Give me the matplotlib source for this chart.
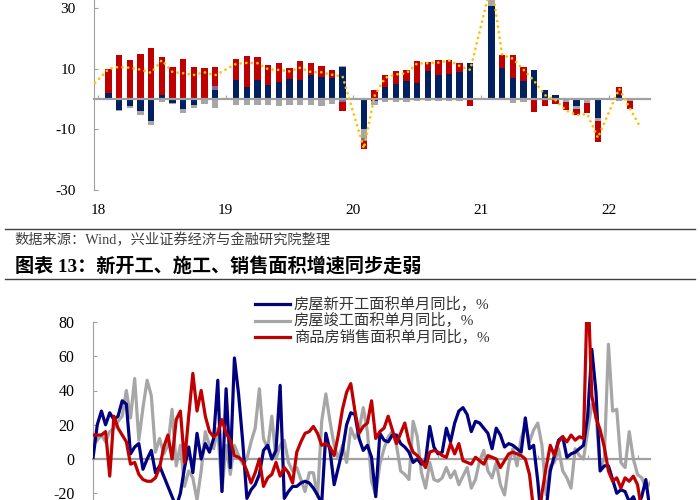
import numpy as np
import matplotlib
matplotlib.use("Agg")
import matplotlib.pyplot as plt
from matplotlib.lines import Line2D

plt.rcParams["font.family"] = ["Liberation Serif", "Noto Sans CJK SC"]
plt.rcParams["axes.unicode_minus"] = False

# -----------------------------
# Top chart: investment yoy split (stacked bars) + total (dotted line)
# month index: 0 = 2018-01
# -----------------------------
bar_months = [1, 2, 3, 4, 5, 6, 7, 8, 9, 10, 11,
              13, 14, 15, 16, 17, 18, 19, 20, 21, 22, 23,
              25, 26, 27, 28, 29, 30, 31, 32, 33, 34, 35,
              37, 38, 39, 40, 41, 42, 43, 44, 45, 46, 47,
              49, 50]
part_navy = [2.0, -3.5, -2.4, -3.9, -7.2, 1.4, -1.3, -3.3, -2.0, 0.3, 3.1,
             6.1, 4.1, 6.1, 4.7, 5.6, 6.7, 6.1, 8.0, 7.3, 7.0, 10.5,
             -9.8, -0.5, 4.1, 5.0, 5.8, 5.4, 9.3, 8.0, 8.2, 8.9, 11.8,
             30.6, 10.2, 6.9, 5.8, 9.7, 3.1, 1.3, 0.0, -2.4, 0.0, -6.4,
             1.3, -0.3]
part_gray = [0.0, -0.5, -0.6, -1.3, -1.3, -0.9, -0.4, -1.3, -1.1, -1.5, -2.9,
             -2.0, -2.0, -2.0, -2.0, -2.2, -2.0, -2.0, -2.0, -2.2, -1.5, 0.4,
             -3.1, -1.5, -0.9, -0.9, -0.9, -0.5, -0.5, -0.5, -0.5, -0.5, 0.0,
             1.9, -0.4, -1.3, -1.0, -0.3, -0.3, -0.3, -0.9, -0.9, -1.3, -0.8,
             -0.5, -0.3]
part_purple = [0, 0, 0, 0, 0, 0, 0, 0, 0, 0, 1.3,
               0, 0, 0, 0, 0, 0, 0, 0, 0, 0, -0.9,
               -0.8, 0, 0, 0, 0, 0, 0, 0, 0, 0, 0,
               0, 0, 0, 0, 0, 0, 0, 0, 0, 0, 0,
               0, 0]
part_red = [8.0, 14.4, 13.0, 14.8, 16.9, 12.4, 10.6, 13.1, 10.6, 10.0, 6.1,
            7.0, 10.1, 7.6, 6.4, 6.4, 3.5, 6.5, 3.9, 3.5, 2.7, -3.0,
            -2.7, 3.1, 3.7, 4.1, 3.8, 7.0, 2.8, 4.7, 4.8, 2.9, -2.3,
            5.8, 4.4, 7.6, 4.8, -4.1, -2.0, -1.3, -2.7, -2.0, -3.3, -7.0,
            2.8, -2.8]

total_months = [-1, 1, 2, 3, 4, 5, 6, 7, 8, 9, 10, 11,
                13, 14, 15, 16, 17, 18, 19, 20, 21, 22, 23,
                25, 26, 27, 28, 29, 30, 31, 32, 33, 34, 35,
                37, 38, 39, 40, 41, 42, 43, 44, 45, 46, 47,
                49, 50, 51]
total_yoy = [2.7, 9.9, 10.6, 10.3, 9.7, 8.6, 12.8, 8.9, 8.5, 7.9, 8.8, 7.8,
             11.6, 11.9, 11.8, 9.8, 9.6, 9.1, 10.3, 8.9, 8.8, 8.0, 7.4,
             -16.3, 1.0, 7.0, 8.1, 8.5, 11.7, 11.8, 12.0, 12.7, 10.9, 9.6,
             38.3, 14.5, 13.3, 9.7, 6.0, 1.3, -0.3, -3.8, -5.3, -5.0, -12.8,
             3.4, -3.1, -9.4]
top_ticks = [0, 12, 24, 36, 48]
top_labels = ["18", "19", "20", "21", "22"]

# -----------------------------
# Bottom chart: monthly yoy, index 0 = 2011-02
# -----------------------------
new_start = [1, 20, 28, 20, 27, 23, 25, 34, 32, 3,
             7, 9, -6, 0, 5, -8, -4, -10, -16, -22,
             -28, -20, -5, 7, -8, 15, 0, 9, 4, 12,
             46, -19, 41, -5, 59, 38, 10, -23, -18, -15,
             -9, 5, 8, 0, 5, 43, -23, -19, -16, -16,
             -14, -13, -14, -17, -21, -26, 15, 5, -15, -5,
             5, 20, 27, 26, 12, 5, 8, 1, -22, 15,
             11, 10, 14, 14, 9, 7, 4, -2, 0, -3,
             -1, 19, 7, 3, 4, 18, 10, 21, 28, 30,
             26, 16, 22, 21, 18, 15, 6, 18, 14, 7,
             9, 8, 6, 4, 24, 6, 8, -13, -40, -30,
             -7, 2, 11, 13, 1, 3, 4, 6, 8, 25,
             64, 39, -7, -4, -4, -12, -20, -18, -19, -25,
             -22, -28, -22, -12, -30]
completed = [8, 11, 14, 10, 16, 18, 22, 25, 40, 24,
             47, 11, 30, 46, 37, 4, 12, 3, 8, 29,
             -4, 8, -16, -7, -11, -24, -7, 16, 8, 6,
             18, -19, 8, -9, 8, 2, -3, 0, 10, 18,
             41, 12, 6, 25, 0, 8, 11, -2, -7, -5,
             -12, -19, -8, -8, -22, 22, 38, 22, 8, 0,
             8, -2, 18, 12, 17, 30, 16, -13, -21, -3,
             6, 13, 16, 8, -7, -9, -12, 22, 13, -8,
             -17, -2, -12, -13, -11, -5, -11, -7, -15, -10,
             -5, -17, -12, -1, 5, -7, -11, -2, -15, -21,
             -3, 6, -4, 12, 20, 10, 17, 21, 8, -21,
             -4, -2, 6, -7, -11, -17, 6, 2, 0, 16,
             32, 26, -5, 0, 67, 28, 29, -2, -5, 16,
             0, -9, -11, -17, -14]
sales = [14, 14, 14, 16, -10, 25, 18, 14, 10, -3,
         -2, -9, -12, -13, -13, -11, -5, 7, 14, 0,
         23, 28, -2, 25, 50, 28, 40, 25, 16, 13,
         15, 23, 15, 11, 2, 1, -1, -7, -14, -8,
         0, -16, -11, -9, -2, -10, -5, -8, -14, 4,
         10, 15, 16, 19, 15, 8, 9, 7, 2, 14,
         29, 39, 44, 28, 15, 19, 21, 34, 12, 16,
         18, 25, 17, 9, 15, 21, 10, 4, 2, -1,
         -5, 4, 5, 4, 2, 1, 9, 3, 9, -1,
         -2, -3, 1, -1, -3, 2, 1, 0, -5, -1,
         3, 4, 3, 2, 0, -9, -30, -40, -20, -5,
         8, 2, 10, 13, 10, 14, 11, 13, 12, 105,
         37, 24, 17, 7, -7, -13, -11, -17, -11, -13,
         -10, -15, -30, -40, -45]
bottom_ticks = [11, 23, 35, 47, 59, 71, 83, 95, 107, 119, 131]

NAVY = "#002060"
RED = "#C00000"
GRAY = "#A6A6A6"
PURPLE = "#7E6A9E"
YELLOW = "#FFC000"
AXIS = "#A0A0A0"

fig = plt.figure(figsize=(7, 5), dpi=100)

# -----------------------------
# Top chart
# -----------------------------
ax1 = fig.add_axes([93.5 / 700, 1 - 190 / 500, (650 - 93.5) / 700, (190 + 52.7) / 500])
pos = np.zeros(len(bar_months))
neg = np.zeros(len(bar_months))
for vals, col in [(part_navy, NAVY), (part_gray, GRAY), (part_purple, PURPLE), (part_red, RED)]:
    v = np.array(vals, dtype=float)
    base = np.where(v >= 0, pos, neg)
    ax1.bar(bar_months, v, width=0.6, bottom=base, color=col, edgecolor="none", zorder=2)
    pos += np.clip(v, 0, None)
    neg += np.clip(v, None, 0)

ax1.plot(total_months, total_yoy, color=YELLOW, lw=2.0, ls=(0, (0.01, 2.0)),
         dash_capstyle="round", zorder=4)

ax1.set_xlim(-0.42, 51.9)
ax1.set_ylim(-30, 50)
ax1.set_yticks([-30, -10, 10, 30])
for s in ["top", "right"]:
    ax1.spines[s].set_visible(False)
ax1.spines["left"].set_color(AXIS)
ax1.spines["bottom"].set_position(("data", 0))
ax1.spines["bottom"].set_color(AXIS)
ax1.spines["bottom"].set_linewidth(1.6)
ax1.spines["bottom"].set_zorder(3)
ax1.set_xticks(top_ticks)
ax1.tick_params(axis="x", direction="in", length=3, color=AXIS, labelbottom=False)
ax1.tick_params(axis="y", direction="in", length=3, color=AXIS, labelsize=11, pad=13)
sec = ax1.secondary_xaxis(0)
sec.set_xticks(top_ticks, top_labels)
sec.spines["bottom"].set_visible(False)
sec.tick_params(length=0, pad=10, labelsize=11)

# -----------------------------
# Notes between the charts
# -----------------------------
fig.add_artist(Line2D([5 / 700, 695 / 700], [1 - 229 / 500] * 2, color="#404040", lw=1))
fig.text(14 / 700, 1 - 240 / 500, "数据来源：Wind，兴业证券经济与金融研究院整理",
         fontsize=10.3, color="#404040", va="center", ha="left")
fig.text(15 / 700, 1 - 267 / 500, "图表 13：新开工、施工、销售面积增速同步走弱",
         fontsize=13.8, fontweight="bold", color="black", va="center", ha="left")
fig.add_artist(Line2D([5 / 700, 695 / 700], [1 - 279 / 500] * 2, color="#404040", lw=1))

# -----------------------------
# Bottom chart
# -----------------------------
ax2 = fig.add_axes([92.7 / 700, 1 - 561.75 / 500, (650 - 92.7) / 700, 239.75 / 500])
x = np.arange(len(new_start))
ax2.plot(x, completed, color=GRAY, lw=2.3, zorder=2)
ax2.plot(x, new_start, color="#000080", lw=2.3, zorder=3)
ax2.plot(x, sales, color=RED, lw=2.3, zorder=4)

ax2.set_xlim(-0.1, 134)
ax2.set_ylim(-60, 80)
ax2.set_yticks(np.arange(-20, 81, 20))
for s in ["top", "right"]:
    ax2.spines[s].set_visible(False)
ax2.spines["left"].set_color(AXIS)
ax2.spines["bottom"].set_position(("data", 0))
ax2.spines["bottom"].set_color(AXIS)
ax2.spines["bottom"].set_linewidth(1.6)
ax2.set_xticks(bottom_ticks)
ax2.tick_params(axis="x", direction="in", length=3, color=AXIS, labelbottom=False)
ax2.tick_params(axis="y", direction="in", length=3, color=AXIS, labelsize=11.5, pad=13)

legend_items = [("房屋新开工面积单月同比，%", "#000080"),
                ("房屋竣工面积单月同比，%", GRAY),
                ("商品房销售面积单月同比，%", RED)]
for k, (label, col) in enumerate(legend_items):
    yy = 1 - (304 + 16.7 * k) / 500
    fig.add_artist(Line2D([255 / 700, 290 / 700], [yy, yy], color=col, lw=2.3))
    fig.text(294 / 700, yy, label, fontsize=11, color="#333333", va="center", ha="left")

fig.savefig("out.png", dpi=100)
